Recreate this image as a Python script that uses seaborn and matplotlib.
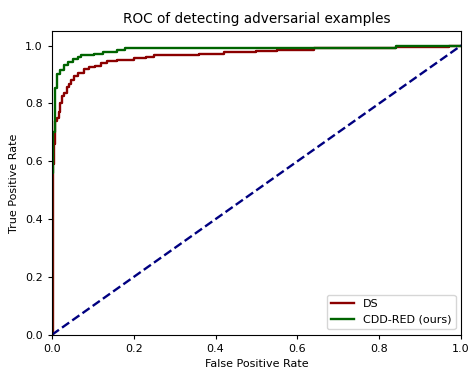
import matplotlib
matplotlib.use('Agg')
import matplotlib.pyplot as plt
import seaborn as sns

# ROC points (false positive rate, true positive rate)
dsFpr = [0, 0.002, 0.004, 0.006, 0.009, 0.013, 0.017, 0.021, 0.024, 0.031, 0.037, 0.042,
         0.048, 0.055, 0.065, 0.078, 0.09, 0.105, 0.12, 0.135, 0.16, 0.2, 0.23, 0.25,
         0.3, 0.36, 0.42, 0.5, 0.55, 0.64, 0.84, 0.97, 1.0]
dsTpr = [0, 0.343, 0.59, 0.66, 0.74, 0.75, 0.77, 0.80, 0.825, 0.837, 0.855, 0.866,
         0.88, 0.894, 0.906, 0.918, 0.925, 0.93, 0.94, 0.946, 0.95, 0.956, 0.96, 0.966,
         0.969, 0.972, 0.978, 0.981, 0.986, 0.99, 0.995, 1.0, 1.0]

cddFpr = [0, 0.001, 0.004, 0.007, 0.009, 0.012, 0.019, 0.027, 0.031, 0.039, 0.051, 0.065,
          0.072, 0.092, 0.104, 0.124, 0.16, 0.18, 0.43, 0.84, 0.964, 1.0]
cddTpr = [0, 0.56, 0.70, 0.72, 0.854, 0.9, 0.914, 0.917, 0.934, 0.944, 0.952, 0.96,
          0.966, 0.969, 0.972, 0.978, 0.984, 0.99, 0.993, 0.997, 1.0, 1.0]

chanceLine = [0, 1]

fig, ax = plt.subplots(figsize=(4.71, 3.70), dpi=100)
fig.subplots_adjust(left=0.110, right=0.979, top=0.916, bottom=0.095)

sns.lineplot(x=dsFpr, y=dsTpr, color='darkred', lw=1.7, label='DS',
             drawstyle='steps-post', sort=False, estimator=None, ax=ax)
sns.lineplot(x=cddFpr, y=cddTpr, color='darkgreen', lw=1.7, label='CDD-RED (ours)',
             drawstyle='steps-post', sort=False, estimator=None, ax=ax)
ax.plot(chanceLine, chanceLine, color='navy', lw=1.7, linestyle='--')

ax.set_xlim(0.0, 1.0)
ax.set_ylim(0.0, 1.05)
ax.set_xlabel('False Positive Rate', fontsize=8)
ax.set_ylabel('True Positive Rate', fontsize=8)
ax.set_title('ROC of detecting adversarial examples', fontsize=9.8)
ax.tick_params(labelsize=8, length=3)
ax.legend(loc='lower right', fontsize=8)

plt.savefig('out.png', dpi=100)
